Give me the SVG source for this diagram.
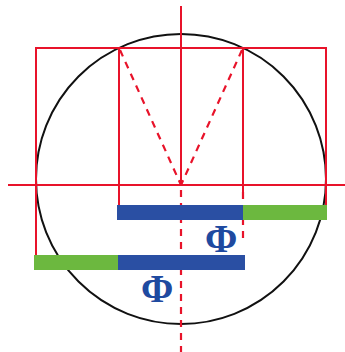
<svg xmlns="http://www.w3.org/2000/svg" width="345" height="352" viewBox="0 0 345 352">
<style>
.red{stroke:#e8132a;stroke-width:2;fill:none}
.dash{stroke:#e8132a;stroke-width:2.2;fill:none;stroke-dasharray:7 6}
.blue{fill:#2a4fa3}
.green{fill:#6cb83f}
.phi{font-family:"Liberation Serif","DejaVu Serif",serif;font-size:39px;font-weight:bold;fill:#1f4aa0}
</style>
<rect width="345" height="352" fill="#fff"/>
<circle id="circle" cx="181" cy="179" r="145" fill="none" stroke="#111" stroke-width="2"/>
<g id="connectors">
<line class="red" x1="181" y1="6" x2="181" y2="185"/>
<line class="dash" x1="181" y1="190" x2="181" y2="352"/>
<line class="red" x1="8" y1="185" x2="345" y2="185"/>
<polyline class="red" points="36,267 36,48 326,48 326,205"/>
<line class="red" x1="119" y1="48" x2="119" y2="205"/>
<line class="red" x1="243" y1="48" x2="243" y2="192"/>
<line class="dash" x1="243" y1="192" x2="243" y2="240"/>
<line class="dash" x1="120" y1="50" x2="181" y2="185"/>
<line class="dash" x1="242" y1="50" x2="181" y2="185"/>
</g>
<g id="bar1">
<rect class="blue" x="117" y="205" width="126" height="15"/>
<rect class="green" x="243" y="205" width="84" height="15"/>
</g>
<g id="bar2">
<rect class="green" x="34" y="255" width="84" height="15"/>
<rect class="blue" x="118" y="255" width="127" height="15"/>
</g>
<text class="phi" x="205" y="252">Φ</text>
<text class="phi" x="141" y="302">Φ</text>
</svg>
